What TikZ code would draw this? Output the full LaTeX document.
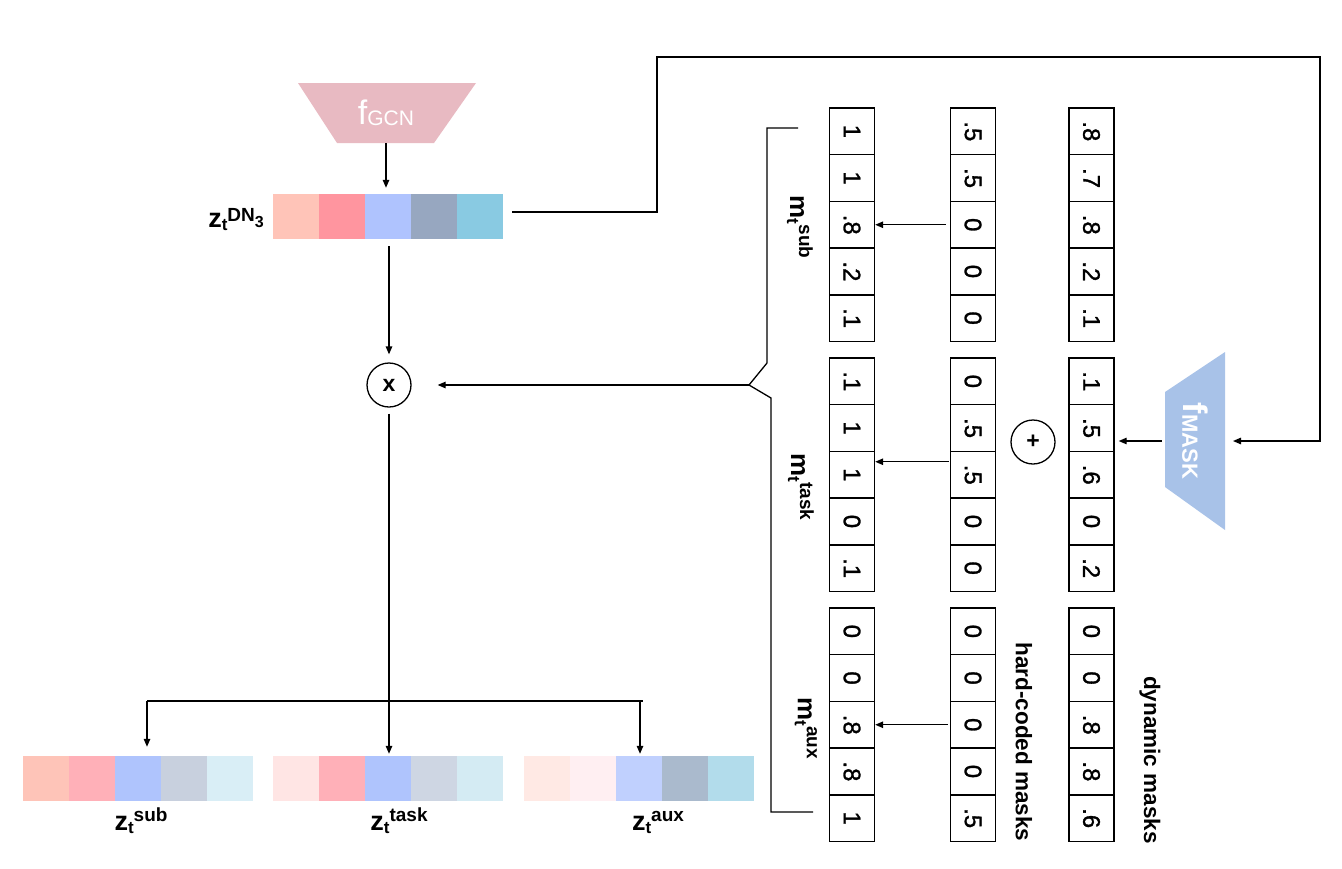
\documentclass[tikz,border=0pt]{standalone}
\usepackage{fontspec}
\usepackage{graphicx}
\setmainfont{Liberation Sans}
\newfontfamily\digitfont[FakeBold=1.2]{Liberation Sans}
\usetikzlibrary{arrows.meta,calc}

% colours
\definecolor{gcnfill}{HTML}{E8BAC2}
\definecolor{maskfill}{HTML}{A8C2E8}
\definecolor{dnA}{HTML}{FFC4B8}\definecolor{dnB}{HTML}{FF959F}\definecolor{dnC}{HTML}{AFC3FE}
\definecolor{dnD}{HTML}{97A7C0}\definecolor{dnE}{HTML}{89CAE2}
\definecolor{sbA}{HTML}{FEC4B8}\definecolor{sbB}{HTML}{FFB0B8}\definecolor{sbC}{HTML}{AFC4FD}
\definecolor{sbD}{HTML}{C8D0DE}\definecolor{sbE}{HTML}{D9EEF6}
\definecolor{tkA}{HTML}{FFE5E4}\definecolor{tkB}{HTML}{FFB0B8}\definecolor{tkC}{HTML}{AFC4FD}
\definecolor{tkD}{HTML}{CED6E3}\definecolor{tkE}{HTML}{D4EBF3}
\definecolor{axA}{HTML}{FFE9E4}\definecolor{axB}{HTML}{FFEFF2}\definecolor{axC}{HTML}{C0D0FE}
\definecolor{axD}{HTML}{AABACD}\definecolor{axE}{HTML}{B2DCEB}

% bold symbol with subscript and superscript set one after the other
\newcommand\lab[3]{\textbf{#1}\raisebox{-3pt}{\fontsize{17}{17}\selectfont\bfseries #2}\raisebox{9pt}{\fontsize{19}{19}\selectfont\bfseries #3}}

% a colour bar of five cells: name, left x, top y, colours
\newcommand\cbar[4]{%
  \foreach \c [count=\i from 0] in {#4}
    \fill[\c] (#2+\i*46,#3) rectangle ++(46,45);
  \node[minimum width=230pt,minimum height=45pt,inner sep=0pt] (#1) at (#2+115,#3+22.5) {};
}

% a mask column of five cells: prefix, centre x, top y, values
\newcommand\maskcol[4]{%
  \foreach \v [count=\i] in {#4}
    \node[cell] (#1-\i) at (#2,#3+\i*46.7-23.35) {\rotatebox{-90}{\v}};
}

\begin{document}
\begin{tikzpicture}[x=1pt,y=-1pt,
  conn/.style={line width=1.3pt},
  arr/.style={conn,-{Triangle[length=8pt,width=6.5pt]}},
  cell/.style={draw,line width=1.4pt,minimum width=45pt,minimum height=46.7pt,
    inner sep=0pt,font=\digitfont\fontsize{24}{24}\selectfont},
  op/.style={circle,draw,line width=1.3pt,minimum size=44pt,inner sep=0pt,
    font=\fontsize{23}{23}\selectfont\bfseries},
  side/.style={rotate=-90,inner sep=0pt,font=\fontsize{22.5}{22.5}\selectfont\bfseries},
  zlab/.style={anchor=base,inner sep=0pt,font=\fontsize{27}{27}\selectfont}]

\fill[white] (0,0) rectangle (1342,868);
\useasboundingbox (0,0) rectangle (1342,868);

% encoder f_GCN
\fill[gcnfill] (298,83) -- (476,83) -- (434,143) -- (337,143) -- cycle;
\node[text=white,minimum height=60pt,minimum width=96pt,inner sep=0pt,
  font=\fontsize{34}{34}\selectfont] (gcn) at (386,113)
  {f\raisebox{-1pt}{\fontsize{21}{21}\selectfont GCN}};

% embedding z_t^{DN_3}
\cbar{zdn}{273}{194}{dnA,dnB,dnC,dnD,dnE}
\node[anchor=base east,inner sep=0pt,font=\fontsize{27}{27}\selectfont] (zdnlab) at (264,227)
  {\textbf{z}\raisebox{-3pt}{\fontsize{17}{17}\selectfont\bfseries t}\raisebox{6pt}{\fontsize{19}{19}\selectfont\bfseries DN\raisebox{-6pt}{\fontsize{16}{16}\selectfont 3}}};

% product node
\node[op] (mul) at (389,385) {x};

% output embeddings
\cbar{zsub}{23}{756}{sbA,sbB,sbC,sbD,sbE}
\cbar{ztask}{273}{756}{tkA,tkB,tkC,tkD,tkE}
\cbar{zaux}{524}{756}{axA,axB,axC,axD,axE}
\node[zlab] (zsublab) at (141,830) {\lab{z}{t}{sub}};
\node[zlab] (ztasklab) at (399,830) {\lab{z}{t}{task}};
\node[zlab] (zauxlab) at (658,830) {\lab{z}{t}{aux}};

% mask columns: final, hard-coded, dynamic
\maskcol{ms}{852}{108}{1,1,.8,.2,.1}
\maskcol{hs}{973}{108}{.5,.5,0,0,0}
\maskcol{ds}{1091.5}{108}{.8,.7,.8,.2,.1}
\maskcol{mt}{852}{358}{.1,1,1,0,.1}
\maskcol{ht}{973}{358}{0,.5,.5,0,0}
\maskcol{dt}{1091.5}{358}{.1,.5,.6,0,.2}
\maskcol{ma}{852}{608}{0,0,.8,.8,1}
\maskcol{ha}{973}{608}{0,0,0,0,.5}
\maskcol{da}{1091.5}{608}{0,0,.8,.8,.6}

\node[rotate=-90,inner sep=0pt,font=\fontsize{26}{26}\selectfont] (mslab) at (800,227) {\lab{m}{t}{sub}};
\node[rotate=-90,inner sep=0pt,font=\fontsize{26}{26}\selectfont] (mtlab) at (801,487) {\lab{m}{t}{task}};
\node[rotate=-90,inner sep=0pt,font=\fontsize{26}{26}\selectfont] (malab) at (806,728) {\lab{m}{t}{aux}};
\node[side] (hardlab) at (1024,742) {hard-coded masks};
\node[side] (dynlab) at (1150,760) {dynamic masks};

% sum node
\node[op] (plus) at (1033,442) {+};

% mask generator f_MASK
\fill[maskfill] (1165,392) -- (1225,352) -- (1225,530) -- (1165,487) -- cycle;
\node[text=white,rotate=-90,minimum width=96pt,minimum height=60pt,inner sep=0pt,
  font=\fontsize{34}{34}\selectfont\bfseries] (fmask) at (1195,441)
  {f\raisebox{-1pt}{\fontsize{22}{22}\selectfont MASK}};

% bracket gathering the three masks
\coordinate (brTip) at (749,385);
\draw[conn] (798,128) -- (767,128) -- (767,363) -- (brTip) -- (771,398) -- (771,812) -- (813,812);

% connectors
\coordinate (loopA) at (512,212);
\coordinate (lpTop) at (657,57);
\coordinate (lpRight) at (1320,441);
\coordinate (maskin) at (1233,441);
\draw[arr] (loopA) -| (lpTop) -| (lpRight) -- (maskin);

\draw[arr,shorten >=6pt] (gcn.south) -- (gcn.south |- zdn.north);
\draw[arr,shorten <=7pt,shorten >=8pt] (zdn.south -| mul.north) -- (mul.north);
\draw[arr,shorten >=26pt] (brTip) -- (mul.east);

\coordinate (hl) at (147,701);
\coordinate (hr) at (643,701);
\coordinate (hr2) at (640,701);
\draw[arr,shorten <=6pt,shorten >=2pt] (mul.south) -- (mul.south |- ztask.north);
\draw[conn] (hl) -- (hr);
\draw[arr,shorten >=9pt] (hl) -- (hl |- zsub.north);
\draw[arr,shorten >=2pt] (hr2) -- (hr2 |- zaux.north);

\draw[arr,shorten <=3pt,shorten >=4pt] (fmask.south) -- (fmask.south -| dt-2.east);
\draw[arr,shorten <=4pt] (hs-3.west) -- (ms-3.east);
\draw[arr,shorten <=1pt] ([yshift=13pt]ht-3.west) -- ([yshift=13pt]mt-3.east);
\draw[arr,shorten <=2pt] (ha-3.west) -- (ma-3.east);

\end{tikzpicture}
\end{document}
